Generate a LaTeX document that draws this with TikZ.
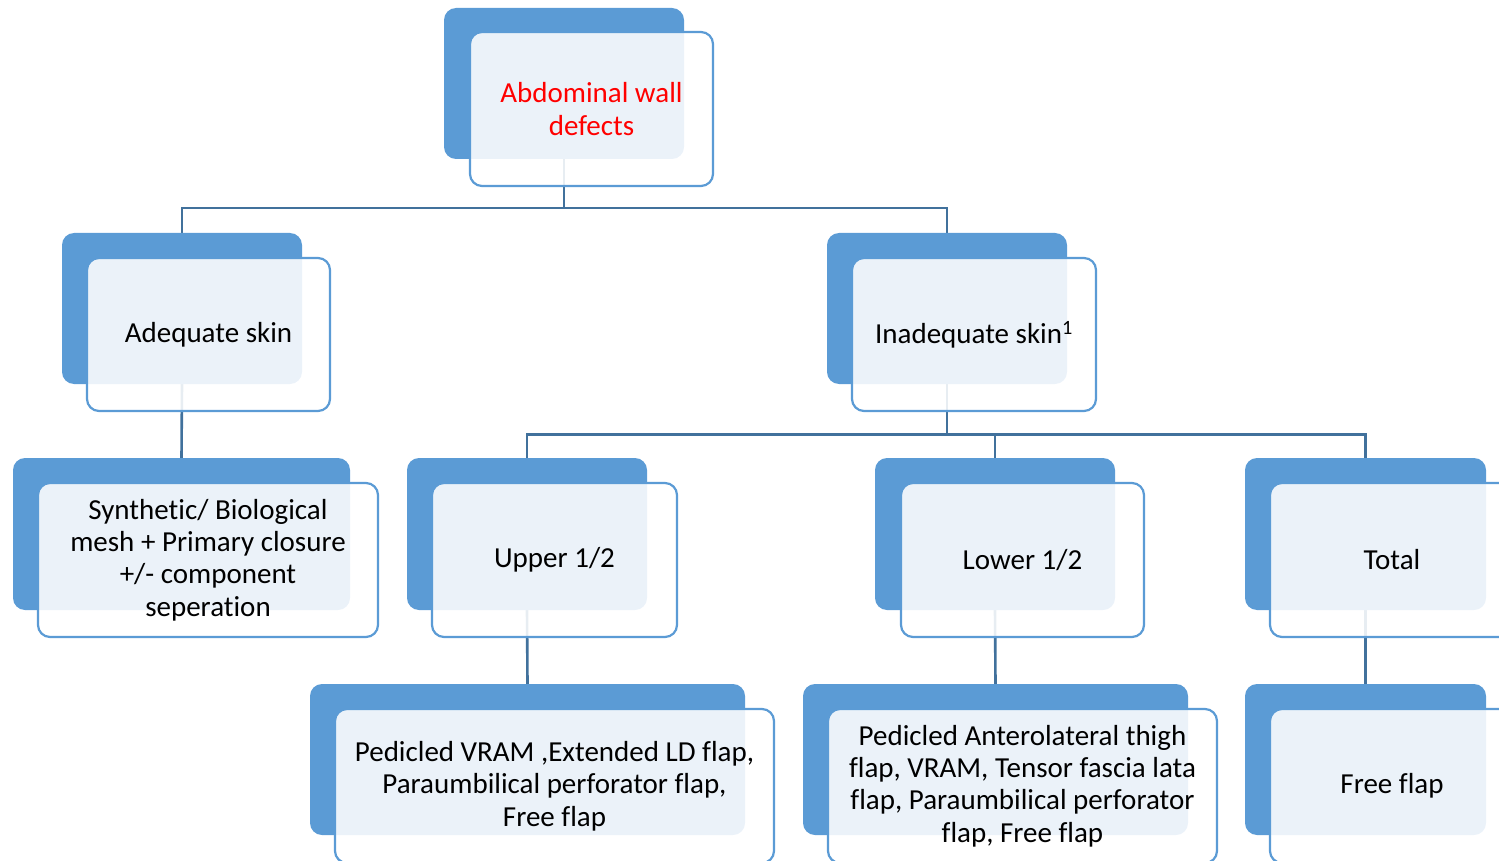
\documentclass[tikz,border=0pt]{standalone}
\usepackage{fontspec}
\setmainfont{Carlito}[RawFeature={-liga;-clig;-calt;-dlig}]
\usetikzlibrary{positioning,backgrounds}
\definecolor{boxcolor}{RGB}{91,155,213}
\definecolor{linecolor}{RGB}{65,113,156}
\definecolor{titlecolor}{RGB}{255,0,0}

\begin{document}
\begin{tikzpicture}[x=1pt,y=-1pt,
  back/.style={rectangle,rounded corners=12pt,fill=boxcolor,inner sep=0pt},
  front/.style={rectangle,rounded corners=12pt,draw=boxcolor,line width=2.2pt,
    fill=white,fill opacity=0.88,text opacity=1,inner sep=0pt,align=center,
    font=\fontsize{29}{32.4}\selectfont},
  conn/.style={draw=linecolor,line width=2.6pt}]

  \useasboundingbox (0,0) rectangle (1499,861);

  \node[back, minimum width=240pt, minimum height=151pt] (top) at (564,83.5) {};
  \node[front, minimum width=243pt, minimum height=154pt, text=titlecolor] (topf) at (591.5,109) {Abdominal wall\\defects};

  \node[back, minimum width=240pt, minimum height=151pt] (adequate) at (182,308.5) {};
  \node[front, minimum width=243pt, minimum height=153pt] (adequatef) at (208.5,334.5) {Adequate skin};

  \node[back, minimum width=240pt, minimum height=151pt] (inadequate) at (947,308.5) {};
  \node[front, minimum width=244pt, minimum height=153pt] (inadequatef) at (974,334.5) {Inadequate skin\textsuperscript{1}};

  \node[back, minimum width=337pt, minimum height=152pt] (synth) at (181.5,534) {};
  \node[front, minimum width=340pt, minimum height=154pt] (synthf) at (208,560) {Synthetic/ Biological\\mesh + Primary closure\\+/- component\\seperation};

  \node[back, minimum width=240pt, minimum height=152pt] (upper) at (527,534) {};
  \node[front, minimum width=245pt, minimum height=154pt] (upperf) at (554.5,560) {Upper 1/2};

  \node[back, minimum width=240pt, minimum height=152pt] (lower) at (995,534) {};
  \node[front, minimum width=243pt, minimum height=154pt] (lowerf) at (1022.5,560) {Lower 1/2};

  \node[back, minimum width=241pt, minimum height=152pt] (total) at (1365.5,534) {};
  \node[front, minimum width=244pt, minimum height=154pt] (totalf) at (1392,560) {Total};

  \node[back, minimum width=435pt, minimum height=151pt] (vram) at (527.5,759.5) {};
  \node[front, minimum width=439pt, minimum height=154pt] (vramf) at (554.5,786) {Pedicled VRAM ,Extended LD flap,\\Paraumbilical perforator flap,\\Free flap};

  \node[back, minimum width=385pt, minimum height=151pt] (alt) at (995.5,759.5) {};
  \node[front, minimum width=389pt, minimum height=154pt] (altf) at (1022.5,786) {Pedicled Anterolateral thigh\\flap, VRAM, Tensor fascia lata\\flap, Paraumbilical perforator\\flap, Free flap};

  \node[back, minimum width=241pt, minimum height=151pt] (free) at (1365.5,759.5) {};
  \node[front, minimum width=244pt, minimum height=154pt] (freef) at (1392,786) {Free flap};

  \begin{pgfonlayer}{background}
    \draw[conn] (top.south) -- ++(0,49) coordinate (j1);
    \draw[conn] (j1) -| (adequate.north);
    \draw[conn] (j1) -| (inadequate.north);
    \draw[conn] (adequate.south) -- (synth.north);
    \draw[conn] (inadequate.south) -- ++(0,50) coordinate (j2);
    \draw[conn] (j2) -| (upper.north);
    \draw[conn] (j2) -| (lower.north);
    \draw[conn] (j2) -| (total.north);
    \draw[conn] (upper.south) -- (vram.north);
    \draw[conn] (lower.south) -- (alt.north);
    \draw[conn] (total.south) -- (free.north);
  \end{pgfonlayer}
\end{tikzpicture}
\end{document}
